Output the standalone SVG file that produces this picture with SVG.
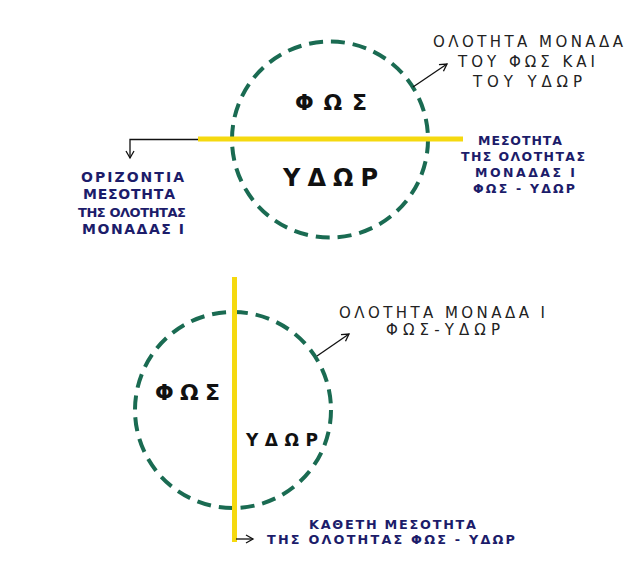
<svg xmlns="http://www.w3.org/2000/svg" width="640" height="568" viewBox="0 0 640 568">
<style>
.circ{fill:none;stroke:#1a6b52;stroke-width:4;stroke-dasharray:14 8}
.axis{stroke:#f5d90f;stroke-width:5;fill:none}
.conn{stroke:#111;stroke-width:1.3;fill:none}
.lbl{font-family:"DejaVu Sans",sans-serif;fill:#222;font-size:15px}
.sym{font-family:"DejaVu Sans",sans-serif;fill:#111;font-weight:bold}
.blue{font-family:"DejaVu Sans",sans-serif;fill:#1c1c6a;font-weight:bold}
</style>
<defs>
<marker id="ah" markerWidth="10" markerHeight="10" refX="8" refY="5" orient="auto" markerUnits="userSpaceOnUse">
<path d="M1,1 L8,5 L1,9" fill="none" stroke="#111" stroke-width="1.3"/>
</marker>
</defs>

<g id="top-circle">
<circle class="circ" cx="330" cy="139.5" r="98"/>
<text class="sym" font-size="22" x="295" y="110" textLength="72" lengthAdjust="spacing">ΦΩΣ</text>
<text class="sym" font-size="24" x="283" y="186" textLength="95" lengthAdjust="spacing">ΥΔΩΡ</text>
</g>
<g id="top-axis">
<line class="axis" x1="198" y1="139" x2="463" y2="139"/>
</g>

<g id="bottom-circle">
<circle class="circ" cx="233" cy="410" r="98"/>
<text class="sym" font-size="22" x="155" y="400" textLength="65" lengthAdjust="spacing">ΦΩΣ</text>
<text class="sym" font-size="17" x="246" y="446" textLength="72" lengthAdjust="spacing">ΥΔΩΡ</text>
</g>
<g id="bottom-axis">
<line class="axis" x1="234.5" y1="277" x2="234.5" y2="542"/>
</g>

<g id="connectors">
<path class="conn" d="M413,87 L447,64" marker-end="url(#ah)"/>
<path class="conn" d="M198,139.5 L130,139.5 L130,158" marker-end="url(#ah)"/>
<path class="conn" d="M317,356 L349,334" marker-end="url(#ah)"/>
<path class="conn" d="M236,539 L253,539" marker-end="url(#ah)"/>
</g>

<g id="label-top-unity">
<text class="lbl" x="433" y="47" textLength="190" lengthAdjust="spacing">ΟΛΟΤΗΤΑ ΜΟΝΑΔΑ</text>
<text class="lbl" x="458" y="67" textLength="137" lengthAdjust="spacing">ΤΟΥ ΦΩΣ ΚΑΙ</text>
<text class="lbl" x="473" y="87" textLength="109" lengthAdjust="spacing">ΤΟΥ ΥΔΩΡ</text>
</g>

<g id="label-horizontal">
<text class="blue" font-size="14" x="81" y="182" textLength="103" lengthAdjust="spacing">ΟΡΙΖΟΝΤΙΑ</text>
<text class="blue" font-size="14" x="83" y="199" textLength="92" lengthAdjust="spacing">ΜΕΣΟΤΗΤΑ</text>
<text class="blue" font-size="13" x="78" y="216.5" textLength="108" lengthAdjust="spacing">ΤΗΣ ΟΛΟΤΗΤΑΣ</text>
<text class="blue" font-size="14" x="82" y="233.5" textLength="102" lengthAdjust="spacing">ΜΟΝΑΔΑΣ Ι</text>
</g>

<g id="label-horizontal-right">
<text class="blue" font-size="12.5" x="478" y="145" textLength="84" lengthAdjust="spacing">ΜΕΣΟΤΗΤΑ</text>
<text class="blue" font-size="12.5" x="461" y="161" textLength="124" lengthAdjust="spacing">ΤΗΣ ΟΛΟΤΗΤΑΣ</text>
<text class="blue" font-size="12.5" x="475" y="177" textLength="100" lengthAdjust="spacing">ΜΟΝΑΔΑΣ Ι</text>
<text class="blue" font-size="12.5" x="473" y="192.5" textLength="102" lengthAdjust="spacing">ΦΩΣ - ΥΔΩΡ</text>
</g>

<g id="label-bottom-unity">
<text class="lbl" font-size="13.5" x="339" y="318" textLength="206" lengthAdjust="spacing">ΟΛΟΤΗΤΑ ΜΟΝΑΔΑ Ι</text>
<text class="lbl" font-size="11" x="386" y="335" textLength="114" lengthAdjust="spacing">ΦΩΣ-ΥΔΩΡ</text>
</g>

<g id="label-vertical">
<text class="blue" font-size="12.8" x="309" y="529" textLength="167" lengthAdjust="spacing">ΚΑΘΕΤΗ ΜΕΣΟΤΗΤΑ</text>
<text class="blue" font-size="12.8" x="267" y="544" textLength="248" lengthAdjust="spacing">ΤΗΣ ΟΛΟΤΗΤΑΣ ΦΩΣ - ΥΔΩΡ</text>
</g>
</svg>
